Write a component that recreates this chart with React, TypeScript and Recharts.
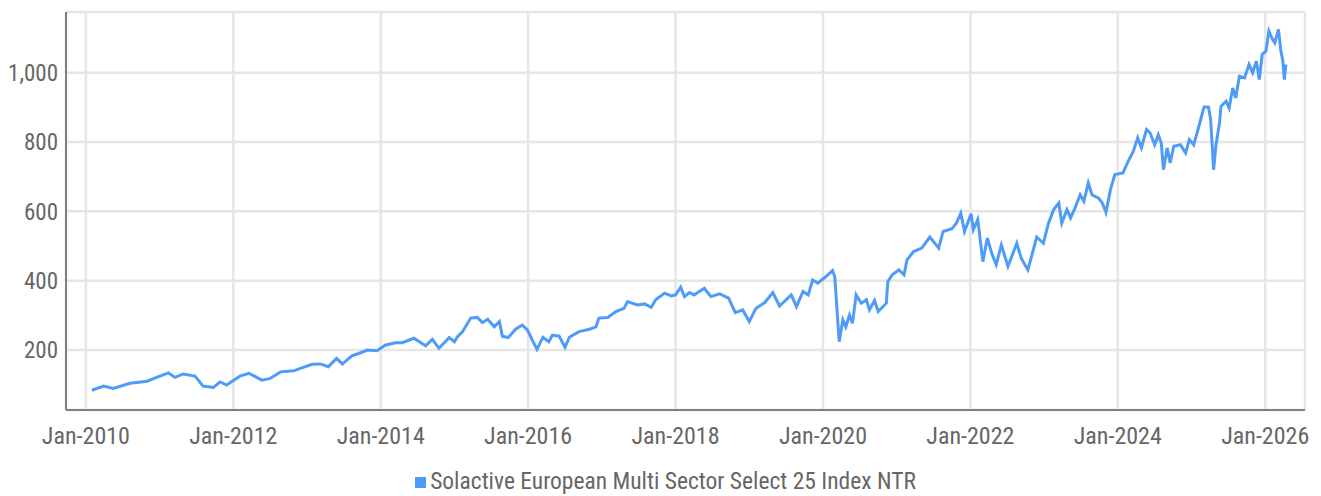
import React from 'react';
import { LineChart, Line, XAxis, YAxis, CartesianGrid, Legend } from 'recharts';

// decimal years
const years = [
  2010.08, 2010.24, 2010.37, 2010.6, 2010.83, 2010.96, 2011.12, 2011.21, 2011.32, 2011.48,
  2011.59, 2011.73, 2011.82, 2011.91, 2012.09, 2012.21, 2012.39, 2012.5, 2012.64, 2012.82,
  2012.91, 2013.07, 2013.18, 2013.29, 2013.4, 2013.48, 2013.61, 2013.7, 2013.82, 2013.95,
  2014.06, 2014.2, 2014.29, 2014.45, 2014.61, 2014.7, 2014.79, 2014.93, 2015.0, 2015.04,
  2015.11, 2015.22, 2015.31, 2015.38, 2015.45, 2015.54, 2015.61, 2015.65, 2015.73, 2015.83,
  2015.92, 2015.99, 2016.06, 2016.12, 2016.2, 2016.28, 2016.33, 2016.42, 2016.5, 2016.56,
  2016.69, 2016.83, 2016.92, 2016.96, 2017.08, 2017.19, 2017.3, 2017.35, 2017.48, 2017.58,
  2017.67, 2017.73, 2017.85, 2017.94, 2018.0, 2018.07, 2018.12, 2018.19, 2018.25, 2018.39,
  2018.48, 2018.6, 2018.72, 2018.81, 2018.91, 2019.0, 2019.09, 2019.21, 2019.32, 2019.41,
  2019.57, 2019.64, 2019.73, 2019.8, 2019.86, 2019.93, 2020.04, 2020.13, 2020.16, 2020.22,
  2020.27, 2020.31, 2020.36, 2020.4, 2020.45, 2020.52, 2020.59, 2020.63, 2020.7, 2020.75,
  2020.86, 2020.88, 2020.94, 2021.03, 2021.1, 2021.14, 2021.23, 2021.34, 2021.45, 2021.57,
  2021.63, 2021.75, 2021.81, 2021.87, 2021.92, 2022.01, 2022.04, 2022.1, 2022.17, 2022.23,
  2022.29, 2022.35, 2022.42, 2022.51, 2022.63, 2022.69, 2022.78, 2022.83, 2022.9, 2022.99,
  2023.06, 2023.13, 2023.2, 2023.24, 2023.31, 2023.36, 2023.42, 2023.49, 2023.54, 2023.6,
  2023.65, 2023.74, 2023.79, 2023.84, 2023.9, 2023.96, 2024.07, 2024.14, 2024.21, 2024.27,
  2024.32, 2024.39, 2024.44, 2024.5, 2024.55, 2024.59, 2024.62, 2024.67, 2024.71, 2024.76,
  2024.85, 2024.92, 2024.97, 2025.03, 2025.1, 2025.17, 2025.23, 2025.26, 2025.3, 2025.33,
  2025.38, 2025.4, 2025.47, 2025.51, 2025.56, 2025.6, 2025.65, 2025.72, 2025.78, 2025.83,
  2025.88, 2025.92, 2025.96, 2026.01, 2026.05, 2026.1, 2026.13, 2026.18, 2026.21, 2026.24,
  2026.26, 2026.28,
];

const indexValues = [
  84, 96, 89, 104, 110, 121, 134, 121, 131, 125,
  96, 92, 108, 99, 125, 133, 113, 118, 137, 140,
  147, 159, 160, 152, 176, 160, 183, 190, 200, 198,
  214, 221, 221, 234, 212, 231, 205, 236, 224, 238,
  253, 292, 294, 279, 289, 267, 282, 240, 236, 260,
  272, 258, 227, 202, 237, 224, 243, 240, 208, 237,
  253, 260, 267, 292, 294, 311, 320, 340, 330, 333,
  323, 345, 364, 356, 359, 381, 354, 366, 359, 378,
  354, 362, 350, 308, 316, 282, 320, 337, 366, 327,
  359, 325, 369, 359, 402, 393, 412, 429, 412, 224,
  287, 267, 301, 277, 359, 335, 345, 316, 343, 311,
  335, 397, 417, 431, 417, 460, 484, 494, 526, 494,
  542, 550, 566, 595, 542, 593, 547, 576, 455, 523,
  479, 446, 503, 441, 508, 465, 431, 470, 526, 508,
  566, 605, 624, 566, 605, 581, 610, 648, 629, 682,
  648, 638, 624, 597, 662, 706, 711, 744, 773, 812,
  783, 836, 826, 792, 821, 797, 720, 783, 740, 788,
  792, 768, 807, 792, 845, 901, 901, 865, 720, 788,
  855, 903, 918, 898, 956, 927, 990, 985, 1024, 1000,
  1033, 980, 1053, 1062, 1120, 1096, 1086, 1125, 1067, 1033,
  980, 1024,
];

const xTicks = [2010, 2012, 2014, 2016, 2018, 2020, 2022, 2024, 2026];
const yTicks = [200, 400, 600, 800, 1000];
const seriesName = 'Solactive European Multi Sector Select 25 Index NTR';

const data = years.map((t, i) => ({ t, value: indexValues[i] }));

const font = "'Roboto Condensed', 'Liberation Sans Narrow', 'DejaVu Sans Condensed', Roboto, sans-serif";
const labelColor = '#666666';

export default function App() {
  return (
    <LineChart
      width={1305}
      height={488}
      data={data}
      margin={{ top: 4, right: 8, left: 0, bottom: 3 }}
    >
      <CartesianGrid stroke="#e6e6e6" strokeWidth={2.5} />
      <XAxis
        dataKey="t"
        type="number"
        domain={[2009.73, 2026.54]}
        ticks={xTicks}
        tickFormatter={(v: number) => `Jan-${v}`}
        tickLine={false}
        tickSize={0}
        tickMargin={17}
        height={59}
        axisLine={{ stroke: '#7f7f7f', strokeWidth: 2 }}
        tick={{ fill: labelColor, fontSize: 24, fontFamily: font }}
        interval={0}
      />
      <YAxis
        type="number"
        domain={[27, 1175]}
        ticks={yTicks}
        allowDataOverflow
        tickFormatter={(v: number) => v.toLocaleString('en-US')}
        tickLine={false}
        tickSize={0}
        tickMargin={8}
        width={58}
        axisLine={{ stroke: '#7f7f7f', strokeWidth: 2 }}
        tick={{ fill: labelColor, fontSize: 23, fontFamily: font }}
        interval={0}
      />
      <Legend
        verticalAlign="bottom"
        align="center"
        iconType="square"
        iconSize={11}
        wrapperStyle={{ height: 24, lineHeight: '24px', fontFamily: font, fontSize: 23.5, paddingLeft: 14 }}
        formatter={(value: string) => <span style={{ color: labelColor }}>{value}</span>}
      />
      <Line
        type="linear"
        dataKey="value"
        name={seriesName}
        stroke="#4e9bf8"
        strokeWidth={3}
        dot={false}
        isAnimationActive={false}
      />
    </LineChart>
  );
}
